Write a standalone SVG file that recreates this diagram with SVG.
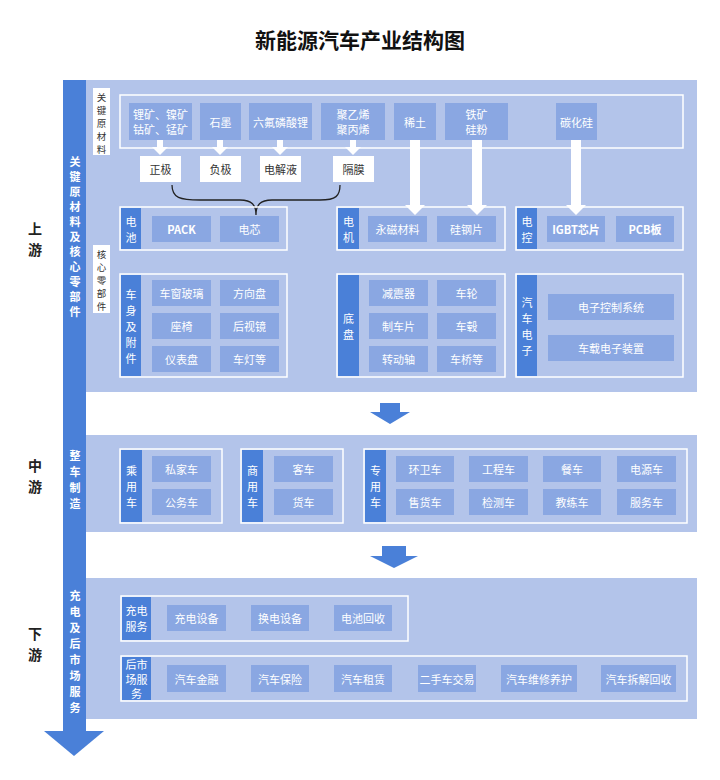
<svg xmlns="http://www.w3.org/2000/svg" width="720" height="780" viewBox="0 0 720 780">
<style>
text{font-family:"Noto Sans CJK SC","Noto Sans",sans-serif;}
.p{fill:#b3c4ea}
.o{fill:none;stroke:#fff;stroke-width:1.5}
.i{fill:#8aa7e2}
.t{fill:#4a80d8}
.w{fill:#fff}
.it{fill:#fff;font-size:11px;text-anchor:middle;dominant-baseline:central}
.bt{fill:#333;font-size:11px;text-anchor:middle;dominant-baseline:central}
.vt{fill:#fff;font-size:11px;font-weight:bold;text-anchor:middle}
.lt{fill:#333;font-size:9.5px;text-anchor:middle}
.st{fill:#222;font-size:14px;font-weight:bold;text-anchor:middle}
</style>
<rect width="720" height="780" fill="#fff"/>
<text x="360" y="48" font-size="21" font-weight="bold" text-anchor="middle" fill="#111" style="font-family:'Noto Sans CJK SC',sans-serif">新能源汽车产业结构图</text>

<g id="panels">
<rect class="p" x="86" y="80" width="611" height="312"/>
<rect class="p" x="86" y="435" width="611" height="97"/>
<rect class="p" x="86" y="578" width="611" height="141"/>
</g>

<g id="axis">
<rect class="t" x="63" y="80" width="23" height="652"/>
<polygon class="t" points="44,731 104,731 74,756"/>
<text class="vt"><tspan x="75" y="166">关</tspan><tspan x="75" y="181">键</tspan><tspan x="75" y="196">原</tspan><tspan x="75" y="211">材</tspan><tspan x="75" y="226">料</tspan><tspan x="75" y="241">及</tspan><tspan x="75" y="256">核</tspan><tspan x="75" y="271">心</tspan><tspan x="75" y="286">零</tspan><tspan x="75" y="301">部</tspan><tspan x="75" y="316">件</tspan></text>
<text class="vt"><tspan x="75" y="460">整</tspan><tspan x="75" y="476">车</tspan><tspan x="75" y="492">制</tspan><tspan x="75" y="508">造</tspan></text>
<text class="vt"><tspan x="75" y="600">充</tspan><tspan x="75" y="616">电</tspan><tspan x="75" y="632">及</tspan><tspan x="75" y="648">后</tspan><tspan x="75" y="664">市</tspan><tspan x="75" y="680">场</tspan><tspan x="75" y="696">服</tspan><tspan x="75" y="712">务</tspan></text>
<text class="st"><tspan x="35" y="234">上</tspan><tspan x="35" y="255">游</tspan></text>
<text class="st"><tspan x="35" y="471">中</tspan><tspan x="35" y="492">游</tspan></text>
<text class="st"><tspan x="35" y="639">下</tspan><tspan x="35" y="660">游</tspan></text>
</g>

<g id="side-labels">
<rect class="w" x="93" y="88" width="17" height="67"/>
<text class="lt"><tspan x="101.5" y="101">关</tspan><tspan x="101.5" y="114">键</tspan><tspan x="101.5" y="127">原</tspan><tspan x="101.5" y="140">材</tspan><tspan x="101.5" y="153">料</tspan></text>
<rect class="w" x="93" y="245" width="17" height="68"/>
<text class="lt"><tspan x="101.5" y="258">核</tspan><tspan x="101.5" y="271">心</tspan><tspan x="101.5" y="284">零</tspan><tspan x="101.5" y="297">部</tspan><tspan x="101.5" y="310">件</tspan></text>
</g>

<g id="raw">
<rect class="o" x="120" y="95" width="563" height="53"/>
<rect class="i" x="129" y="103" width="63" height="37"/><text class="it" x="160.5" y="114">锂矿、镍矿</text><text class="it" x="160.5" y="129">钴矿、锰矿</text>
<rect class="i" x="200" y="103" width="41" height="37"/><text class="it" x="220.5" y="121.5">石墨</text>
<rect class="i" x="249" y="103" width="63" height="37"/><text class="it" x="280.5" y="121.5">六氟磷酸锂</text>
<rect class="i" x="321" y="103" width="64" height="37"/><text class="it" x="353" y="114">聚乙烯</text><text class="it" x="353" y="129">聚丙烯</text>
<rect class="i" x="394" y="103" width="42" height="37"/><text class="it" x="415" y="121.5">稀土</text>
<rect class="i" x="445" y="103" width="63" height="37"/><text class="it" x="476.5" y="114">铁矿</text><text class="it" x="476.5" y="129">硅粉</text>
<rect class="i" x="556" y="103" width="41" height="37"/><text class="it" x="576.5" y="121.5">碳化硅</text>
</g>

<g id="connectors" fill="#fff">
<polygon points="157,140 163,140 163,147 168,147 160,155 152,147 157,147"/>
<polygon points="217,140 223,140 223,147 228,147 220,155 212,147 217,147"/>
<polygon points="277,140 283,140 283,147 288,147 280,155 272,147 277,147"/>
<polygon points="350,140 356,140 356,147 361,147 353,155 345,147 350,147"/>
<polygon points="410,140 420,140 420,205 425,205 415,215 405,205 410,205"/>
<polygon points="472,140 482,140 482,205 487,205 477,215 467,205 472,205"/>
<polygon points="571,140 581,140 581,205 586,205 576,215 566,205 571,205"/>
<path d="M172,185 C172,198 180,200 200,200 L240,200 C252,200 256,205 256,215 C256,205 260,200 272,200 L320,200 C336,200 340,196 340,185" fill="none" stroke="#222" stroke-width="1.3"/>
<polygon points="380,403 400,403 400,412 410,412 390,424 370,412 380,412" style="fill:#4a80d8"/>
<polygon points="382,546 406,546 406,556 418,556 394,568 370,556 382,556" style="fill:#4a80d8"/>
</g>

<g id="mid-boxes">
<rect class="w" x="140" y="156" width="41" height="26"/><text class="bt" x="160.5" y="169">正极</text>
<rect class="w" x="200" y="156" width="41" height="26"/><text class="bt" x="220.5" y="169">负极</text>
<rect class="w" x="260" y="156" width="41" height="26"/><text class="bt" x="280.5" y="169">电解液</text>
<rect class="w" x="333" y="156" width="41" height="26"/><text class="bt" x="353.5" y="169">隔膜</text>
</g>

<g id="battery">
<rect class="o" x="120" y="207" width="167" height="43"/><rect class="t" x="121" y="208" width="20" height="41"/>
<text class="it"><tspan x="131" y="221">电</tspan><tspan x="131" y="237">池</tspan></text>
<rect class="i" x="152" y="216" width="59" height="26"/><text class="it" x="181.5" y="229" font-weight="bold">PACK</text>
<rect class="i" x="220" y="216" width="59" height="26"/><text class="it" x="249.5" y="229">电芯</text>
</g>
<g id="motor">
<rect class="o" x="337" y="207" width="168" height="43"/><rect class="t" x="338" y="208" width="21" height="41"/>
<text class="it"><tspan x="348.5" y="221">电</tspan><tspan x="348.5" y="237">机</tspan></text>
<rect class="i" x="368" y="216" width="59" height="26"/><text class="it" x="397.5" y="229">永磁材料</text>
<rect class="i" x="437" y="216" width="59" height="26"/><text class="it" x="466.5" y="229">硅钢片</text>
</g>
<g id="ecu">
<rect class="o" x="516" y="207" width="167" height="43"/><rect class="t" x="517" y="208" width="20" height="41"/>
<text class="it"><tspan x="527" y="221">电</tspan><tspan x="527" y="237">控</tspan></text>
<rect class="i" x="547" y="216" width="58" height="26"/><text class="it" x="576" y="229" font-weight="bold">IGBT芯片</text>
<rect class="i" x="616" y="216" width="58" height="26"/><text class="it" x="645" y="229" font-weight="bold">PCB板</text>
</g>
<g id="body">
<rect class="o" x="120" y="274" width="167" height="103"/><rect class="t" x="121" y="275" width="20" height="101"/>
<text class="it"><tspan x="131" y="294">车</tspan><tspan x="131" y="310">身</tspan><tspan x="131" y="326">及</tspan><tspan x="131" y="342">附</tspan><tspan x="131" y="358">件</tspan></text>
<rect class="i" x="152" y="280" width="59" height="26"/><text class="it" x="181.5" y="293">车窗玻璃</text>
<rect class="i" x="220" y="280" width="59" height="26"/><text class="it" x="249.5" y="293">方向盘</text>
<rect class="i" x="152" y="313" width="59" height="26"/><text class="it" x="181.5" y="326">座椅</text>
<rect class="i" x="220" y="313" width="59" height="26"/><text class="it" x="249.5" y="326">后视镜</text>
<rect class="i" x="152" y="346" width="59" height="26"/><text class="it" x="181.5" y="359">仪表盘</text>
<rect class="i" x="220" y="346" width="59" height="26"/><text class="it" x="249.5" y="359">车灯等</text>
</g>
<g id="chassis">
<rect class="o" x="337" y="274" width="168" height="103"/><rect class="t" x="338" y="275" width="21" height="101"/>
<text class="it"><tspan x="348.5" y="318">底</tspan><tspan x="348.5" y="334">盘</tspan></text>
<rect class="i" x="369" y="280" width="59" height="26"/><text class="it" x="398.5" y="293">减震器</text>
<rect class="i" x="437" y="280" width="59" height="26"/><text class="it" x="466.5" y="293">车轮</text>
<rect class="i" x="369" y="313" width="59" height="26"/><text class="it" x="398.5" y="326">制车片</text>
<rect class="i" x="437" y="313" width="59" height="26"/><text class="it" x="466.5" y="326">车毂</text>
<rect class="i" x="369" y="346" width="59" height="26"/><text class="it" x="398.5" y="359">转动轴</text>
<rect class="i" x="437" y="346" width="59" height="26"/><text class="it" x="466.5" y="359">车桥等</text>
</g>
<g id="electronics">
<rect class="o" x="516" y="274" width="167" height="103"/><rect class="t" x="517" y="275" width="20" height="101"/>
<text class="it"><tspan x="527" y="302">汽</tspan><tspan x="527" y="318">车</tspan><tspan x="527" y="334">电</tspan><tspan x="527" y="350">子</tspan></text>
<rect class="i" x="548" y="294" width="126" height="26"/><text class="it" x="611" y="307">电子控制系统</text>
<rect class="i" x="548" y="335" width="126" height="26"/><text class="it" x="611" y="348">车载电子装置</text>
</g>

<g id="passenger">
<rect class="o" x="120" y="449" width="102" height="74"/><rect class="t" x="121" y="450" width="21" height="72"/>
<text class="it"><tspan x="131.5" y="470">乘</tspan><tspan x="131.5" y="486">用</tspan><tspan x="131.5" y="502">车</tspan></text>
<rect class="i" x="152" y="456" width="59" height="26"/><text class="it" x="181.5" y="469">私家车</text>
<rect class="i" x="152" y="489" width="59" height="26"/><text class="it" x="181.5" y="502">公务车</text>
</g>
<g id="commercial">
<rect class="o" x="241" y="449" width="102" height="74"/><rect class="t" x="242" y="450" width="21" height="72"/>
<text class="it"><tspan x="252.5" y="470">商</tspan><tspan x="252.5" y="486">用</tspan><tspan x="252.5" y="502">车</tspan></text>
<rect class="i" x="274" y="456" width="59" height="26"/><text class="it" x="303.5" y="469">客车</text>
<rect class="i" x="274" y="489" width="59" height="26"/><text class="it" x="303.5" y="502">货车</text>
</g>
<g id="special">
<rect class="o" x="364" y="449" width="323" height="74"/><rect class="t" x="365" y="450" width="21" height="72"/>
<text class="it"><tspan x="375.5" y="470">专</tspan><tspan x="375.5" y="486">用</tspan><tspan x="375.5" y="502">车</tspan></text>
<rect class="i" x="396" y="456" width="58" height="26"/><text class="it" x="425" y="469">环卫车</text>
<rect class="i" x="469" y="456" width="59" height="26"/><text class="it" x="498.5" y="469">工程车</text>
<rect class="i" x="543" y="456" width="58" height="26"/><text class="it" x="572" y="469">餐车</text>
<rect class="i" x="617" y="456" width="59" height="26"/><text class="it" x="646.5" y="469">电源车</text>
<rect class="i" x="396" y="489" width="58" height="26"/><text class="it" x="425" y="502">售货车</text>
<rect class="i" x="469" y="489" width="59" height="26"/><text class="it" x="498.5" y="502">检测车</text>
<rect class="i" x="543" y="489" width="58" height="26"/><text class="it" x="572" y="502">教练车</text>
<rect class="i" x="617" y="489" width="59" height="26"/><text class="it" x="646.5" y="502">服务车</text>
</g>

<g id="charging">
<rect class="o" x="121" y="596" width="287" height="45"/><rect class="t" x="122" y="597" width="29" height="43"/>
<text class="it" x="136.5" y="610" font-size="10">充电</text><text class="it" x="136.5" y="626" font-size="10">服务</text>
<rect class="i" x="167" y="605" width="59" height="26"/><text class="it" x="196.5" y="618">充电设备</text>
<rect class="i" x="251" y="605" width="58" height="26"/><text class="it" x="280" y="618">换电设备</text>
<rect class="i" x="334" y="605" width="58" height="26"/><text class="it" x="363" y="618">电池回收</text>
</g>
<g id="aftermarket">
<rect class="o" x="121" y="656" width="566" height="45"/><rect class="t" x="122" y="657" width="29" height="43"/>
<text class="it" x="136.5" y="664" font-size="9.5">后市</text><text class="it" x="136.5" y="678.5" font-size="9.5">场服</text><text class="it" x="136.5" y="693" font-size="9.5">务</text>
<rect class="i" x="167" y="665" width="59" height="27"/><text class="it" x="196.5" y="678.5">汽车金融</text>
<rect class="i" x="251" y="665" width="58" height="27"/><text class="it" x="280" y="678.5">汽车保险</text>
<rect class="i" x="334" y="665" width="58" height="27"/><text class="it" x="363" y="678.5">汽车租赁</text>
<rect class="i" x="418" y="665" width="58" height="27"/><text class="it" x="447" y="678.5">二手车交易</text>
<rect class="i" x="501" y="665" width="76" height="27"/><text class="it" x="539" y="678.5">汽车维修养护</text>
<rect class="i" x="601" y="665" width="75" height="27"/><text class="it" x="638.5" y="678.5">汽车拆解回收</text>
</g>
</svg>
